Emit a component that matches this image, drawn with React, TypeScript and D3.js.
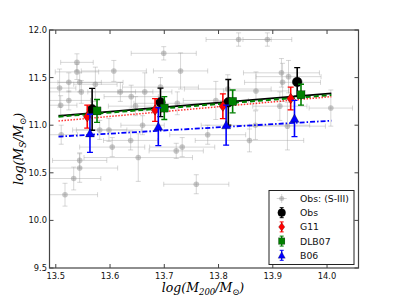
import React from 'react';
import * as d3 from 'd3';

// gray background sample (Obs: S-III): x, y, xerr, yerr
const grayX = [13.837, 13.89, 13.699, 13.539, 13.607, 13.73, 13.539, 13.507, 13.524, 13.544, 13.547, 13.524, 13.509, 13.573, 13.619, 13.639, 13.664, 13.693, 13.724, 13.78, 13.916, 13.918, 13.929, 13.869, 13.817, 13.795, 13.913, 14.007, 13.927, 13.857, 13.868, 13.733, 13.722, 13.759, 13.517, 13.533, 13.544, 13.544, 13.652, 13.604, 13.638, 13.51, 13.581, 13.598, 13.647, 13.66];
const grayY = [11.9, 11.9, 11.755, 11.66, 11.57, 11.57, 11.56, 11.39, 11.45, 11.45, 11.35, 11.26, 11.21, 11.43, 11.35, 11.3, 11.35, 11.4, 11.23, 10.9, 11.55, 11.45, 11.51, 11.36, 11.38, 11.26, 11.2, 11.18, 10.99, 10.84, 11.0, 10.77, 10.73, 10.38, 10.27, 10.44, 10.55, 10.63, 10.66, 10.77, 10.84, 10.9, 10.95, 10.95, 11.2, 11.0];
const grayXErr = [0.06, 0.045, 0.06, 0.03, 0.06, 0.05, 0.04, 0.03, 0.1, 0.04, 0.1, 0.04, 0.03, 0.04, 0.06, 0.05, 0.05, 0.07, 0.08, 0.07, 0.07, 0.07, 0.06, 0.06, 0.08, 0.06, 0.05, 0.04, 0.07, 0.1, 0.1, 0.06, 0.05, 0.06, 0.06, 0.05, 0.07, 0.05, 0.1, 0.06, 0.05, 0.03, 0.05, 0.06, 0.05, 0.04];
const grayYErr = [0.07, 0.07, 0.07, 0.09, 0.11, 0.19, 0.08, 0.2, 0.1, 0.1, 0.12, 0.1, 0.1, 0.18, 0.1, 0.12, 0.2, 0.1, 0.12, 0.1, 0.15, 0.2, 0.17, 0.2, 0.15, 0.2, 0.15, 0.19, 0.25, 0.12, 0.15, 0.1, 0.08, 0.1, 0.12, 0.12, 0.15, 0.08, 0.25, 0.1, 0.1, 0.1, 0.1, 0.12, 0.1, 0.1];

// binned series
const obsX = [13.567, 13.693, 13.818, 13.945];
const obsY = [11.167, 11.24, 11.24, 11.454];
const obsErr = [0.22, 0.15, 0.24, 0.15];
const g11X = [13.558, 13.683, 13.808, 13.933];
const g11Y = [11.09, 11.16, 11.2, 11.28];
const g11Err = [0.12, 0.12, 0.13, 0.12];
const dlbX = [13.576, 13.7, 13.826, 13.952];
const dlbY = [11.15, 11.18, 11.25, 11.32];
const dlbErr = [0.12, 0.12, 0.12, 0.11];
const b06X = [13.563, 13.689, 13.814, 13.94];
const b06Y = [10.915, 10.985, 11.0, 11.07];
const b06Err = [0.2, 0.2, 0.21, 0.19];

// linear fits (end points)
const fitX = [13.505, 14.008];
const obsFit = [11.097, 11.335];
const dlbFit = [11.09, 11.317];
const g11Fit = [11.044, 11.3];
const b06Fit = [10.88, 11.047];

const xTicks = [13.5, 13.6, 13.7, 13.8, 13.9, 14.0];
const yTicks = [9.5, 10.0, 10.5, 11.0, 11.5, 12.0];
const legendLabels = ['Obs: (S-III)', 'Obs', 'G11', 'DLB07', 'B06'];

const W = 399;
const H = 299;
const L = 49.5, R = 358.5, T = 30, B = 268;

const x = d3.scaleLinear().domain([13.4884, 14.058]).range([L, R]);
const y = d3.scaleLinear().domain([9.5, 12.0]).range([B, T]);

const tickFont = 'DejaVu Sans, sans-serif';

type Kind = 'circle' | 'diamond' | 'square' | 'triangle';

const Marker = ({ cx, cy, kind, color }: { cx: number; cy: number; kind: Kind; color: string }) => {
  if (kind === 'circle') return <circle cx={cx} cy={cy} r={4.8} fill={color} stroke="black" strokeWidth={0.5} />;
  if (kind === 'diamond') {
    const s = 5.2;
    return <path d={`M${cx},${cy - s}L${cx + s * 0.75},${cy}L${cx},${cy + s}L${cx - s * 0.75},${cy}Z`} fill={color} stroke="black" strokeWidth={0.3} />;
  }
  if (kind === 'square') return <rect x={cx - 4} y={cy - 4} width={8} height={8} fill={color} stroke="black" strokeWidth={0.3} />;
  const s = 4.5;
  return <path d={`M${cx},${cy - s}L${cx + s},${cy + s * 0.8}L${cx - s},${cy + s * 0.8}Z`} fill={color} stroke="black" strokeWidth={0.3} />;
};

const ErrSeries = ({ xs, ys, errs, color, kind }: { xs: number[]; ys: number[]; errs: number[]; color: string; kind: Kind }) => (
  <g>
    {xs.map((v, i) => {
      const cx = x(v);
      const y0 = y(ys[i] - errs[i]);
      const y1 = y(ys[i] + errs[i]);
      return (
        <g key={i}>
          <line x1={cx} x2={cx} y1={y0} y2={y1} stroke={color} strokeWidth={1.6} />
          <line x1={cx - 3} x2={cx + 3} y1={y0} y2={y0} stroke={color} strokeWidth={1.3} />
          <line x1={cx - 3} x2={cx + 3} y1={y1} y2={y1} stroke={color} strokeWidth={1.3} />
          <Marker cx={cx} cy={y(ys[i])} kind={kind} color={color} />
        </g>
      );
    })}
  </g>
);

const fitLine = (vals: number[]) =>
  d3.line<number>().x((_, i) => x(fitX[i])).y(d => y(d))(vals) || '';

export default function App() {
  const legendKinds: (Kind | 'gray')[] = ['gray', 'circle', 'diamond', 'square', 'triangle'];
  const legendColors = ['#999', 'black', 'red', 'green', 'blue'];
  const lgX = 269, lgY = 190.5, lgW = 85, lgH = 74;

  return (
    <svg width={W} height={H} style={{ position: 'absolute', left: 0, top: 0, background: 'white' }}>
      <defs>
        <clipPath id="plotClip">
          <rect x={L} y={T} width={R - L} height={B - T} />
        </clipPath>
      </defs>
      <rect x={0} y={0} width={W} height={H} fill="white" />

      <g clipPath="url(#plotClip)">
        {/* gray sample */}
        {grayX.map((v, i) => {
          const cx = x(v), cy = y(grayY[i]);
          const xa = x(v - grayXErr[i]), xb = x(v + grayXErr[i]);
          const ya = y(grayY[i] - grayYErr[i]), yb = y(grayY[i] + grayYErr[i]);
          return (
            <g key={i} stroke="#9a9a9a" strokeOpacity={0.4} strokeWidth={1}>
              <line x1={xa} x2={xb} y1={cy} y2={cy} />
              <line x1={cx} x2={cx} y1={ya} y2={yb} />
              <line x1={xa} x2={xa} y1={cy - 2.5} y2={cy + 2.5} />
              <line x1={xb} x2={xb} y1={cy - 2.5} y2={cy + 2.5} />
              <line x1={cx - 2.5} x2={cx + 2.5} y1={ya} y2={ya} />
              <line x1={cx - 2.5} x2={cx + 2.5} y1={yb} y2={yb} />
              <circle cx={cx} cy={cy} r={2.8} fill="#888" fillOpacity={0.45} stroke="none" />
            </g>
          );
        })}

        {/* fits */}
        <path d={fitLine(obsFit)} stroke="black" strokeWidth={1.8} fill="none" />
        <path d={fitLine(dlbFit)} stroke="green" strokeWidth={2} strokeDasharray="5 3" fill="none" />
        <path d={fitLine(g11Fit)} stroke="red" strokeWidth={1.5} strokeDasharray="1.5 1.5" strokeOpacity={0.8} fill="none" />
        <path d={fitLine(b06Fit)} stroke="blue" strokeWidth={1.8} strokeDasharray="5 2 1.5 2" fill="none" />

        <ErrSeries xs={obsX} ys={obsY} errs={obsErr} color="black" kind="circle" />
        <ErrSeries xs={g11X} ys={g11Y} errs={g11Err} color="red" kind="diamond" />
        <ErrSeries xs={dlbX} ys={dlbY} errs={dlbErr} color="green" kind="square" />
        <ErrSeries xs={b06X} ys={b06Y} errs={b06Err} color="blue" kind="triangle" />
      </g>

      {/* frame + ticks */}
      <rect x={L} y={T} width={R - L} height={B - T} fill="none" stroke="#444" strokeWidth={1.2} />
      {xTicks.map(t => (
        <g key={t}>
          <line x1={x(t)} x2={x(t)} y1={B} y2={B - 4} stroke="#444" />
          <line x1={x(t)} x2={x(t)} y1={T} y2={T + 4} stroke="#444" />
          <text x={x(t)} y={B + 11} textAnchor="middle" fontSize={8.3} fontFamily={tickFont} fill="#111">
            {t.toFixed(1)}
          </text>
        </g>
      ))}
      {yTicks.map(t => (
        <g key={t}>
          <line x1={L} x2={L + 4} y1={y(t)} y2={y(t)} stroke="#444" />
          <line x1={R} x2={R - 4} y1={y(t)} y2={y(t)} stroke="#444" />
          <text x={L - 2.5} y={y(t) + 3} textAnchor="end" fontSize={8.3} fontFamily={tickFont} fill="#111">
            {t.toFixed(1)}
          </text>
        </g>
      ))}

      {/* axis labels */}
      <text x={203} y={292} textAnchor="middle" fontFamily="DejaVu Serif, serif" fontStyle="italic" fontSize={12.5}>
        log(M<tspan fontSize={8.5} dy={3}>200</tspan><tspan dy={-3}>/M</tspan><tspan fontSize={8.5} dy={3} fontStyle="normal">⊙</tspan><tspan dy={-3}>)</tspan>
      </text>
      <text transform="translate(23,149) rotate(-90)" textAnchor="middle" fontFamily="DejaVu Serif, serif" fontStyle="italic" fontSize={12.5}>
        log(M<tspan fontSize={8.5} dy={3}>S</tspan><tspan dy={-3}>/M</tspan><tspan fontSize={8.5} dy={3} fontStyle="normal">⊙</tspan><tspan dy={-3}>)</tspan>
      </text>

      {/* legend */}
      <rect x={lgX} y={lgY} width={lgW} height={lgH} fill="white" stroke="#222" strokeWidth={1} />
      {legendLabels.map((lab, i) => {
        const ly = lgY + 8 + i * 14.2;
        const mx = 281.7;
        const kind = legendKinds[i];
        return (
          <g key={lab}>
            {kind === 'gray' ? (
              <g stroke="#9a9a9a" strokeOpacity={0.4}>
                <line x1={mx - 5} x2={mx + 5} y1={ly} y2={ly} />
                <line x1={mx} x2={mx} y1={ly - 4.5} y2={ly + 4.5} />
                <circle cx={mx} cy={ly} r={2.5} fill="#888" fillOpacity={0.45} stroke="none" />
              </g>
            ) : (
              <g>
                <line x1={mx} x2={mx} y1={ly - 5} y2={ly + 5} stroke={legendColors[i]} strokeWidth={1.3} />
                <line x1={mx - 2} x2={mx + 2} y1={ly - 5} y2={ly - 5} stroke={legendColors[i]} />
                <line x1={mx - 2} x2={mx + 2} y1={ly + 5} y2={ly + 5} stroke={legendColors[i]} />
                <g transform={`translate(${mx},${ly}) scale(0.8) translate(${-mx},${-ly})`}>
                  <Marker cx={mx} cy={ly} kind={kind} color={legendColors[i]} />
                </g>
              </g>
            )}
            <text x={300} y={ly + 3.5} fontSize={9.3} fontFamily={tickFont} fill="#111">{lab}</text>
          </g>
        );
      })}
    </svg>
  );
}
